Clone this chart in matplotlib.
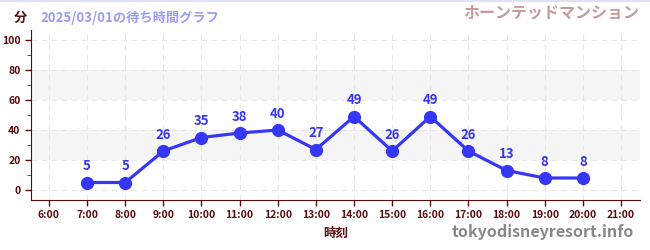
import matplotlib
matplotlib.use('Agg')
import matplotlib.pyplot as plt
from matplotlib.ticker import MultipleLocator

plt.rcParams['font.family'] = ['Noto Sans CJK JP', 'DejaVu Sans']

# wait time data
hours = [7, 8, 9, 10, 11, 12, 13, 14, 15, 16, 17, 18, 19, 20]
waits = [5, 5, 26, 35, 38, 40, 27, 49, 26, 49, 26, 13, 8, 8]
tick_hours = list(range(6, 22))
tick_labels = ['%d:00' % h for h in tick_hours]

dark = '#5a0d0d'
blue = '#3636f5'

fig = plt.figure(figsize=(6.5, 2.5), dpi=100)
ax = fig.add_axes([0.0477, 0.2, 0.937, 0.68])

ax.set_xlim(5.53, 21.5)
ax.set_ylim(-6.67, 106.7)

# shaded bands
for lo, hi in [(20, 40), (60, 80)]:
    ax.axhspan(lo, hi, color='#f5f5f5', zorder=0, lw=0)

ax.set_xticks(tick_hours)
ax.set_xticklabels(tick_labels)
ax.set_yticks([0, 20, 40, 60, 80, 100])
ax.yaxis.set_minor_locator(MultipleLocator(10))
ax.grid(True, which='major', color='#e6e6e6', linestyle=(0, (5, 4)), lw=0.8)

ax.plot(hours, waits, color=blue, lw=2.3, marker='o', markersize=8.5, zorder=3)
for h, w in zip(hours, waits):
    ax.annotate(str(w), (h, w), xytext=(0, 6.5), textcoords='offset points',
                ha='center', va='bottom', color=blue, fontsize=9.5,
                fontweight='bold')

for s in ['top', 'right']:
    ax.spines[s].set_visible(False)
ax.spines['left'].set_color(dark)
ax.spines['bottom'].set_color(dark)
ax.tick_params(axis='both', colors=dark, labelsize=7.5, length=4, width=1)
ax.tick_params(axis='y', which='minor', colors='#cc0000', length=3)
for t in ax.get_xticklabels() + ax.get_yticklabels():
    t.set_fontweight('bold')
    t.set_color(dark)

ax.set_xlabel('時刻', color=dark, fontsize=9, fontweight='bold', labelpad=5)

fig.text(0.031, 0.93, '分', color=dark, fontsize=9.5, fontweight='bold',
         ha='center', va='center')
fig.text(0.062, 0.93, '2025/03/01の待ち時間グラフ', color='#9c9cf5',
         fontsize=9.5, fontweight='bold', va='center')
fig.text(0.983, 0.95, 'ホーンテッドマンション', color='#c99a9a',
         fontsize=11.5, fontweight='bold', ha='right', va='center')
fig.text(0.976, 0.07, 'tokyodisneyresort.info', color='#888888',
         fontsize=11.5, fontweight='bold', ha='right', va='center')

# thin line along the top edge
fig.add_artist(plt.Line2D([0, 1], [0.998, 0.998], color='#e0e0f8', lw=1.5))

fig.savefig('out.png', dpi=100)
